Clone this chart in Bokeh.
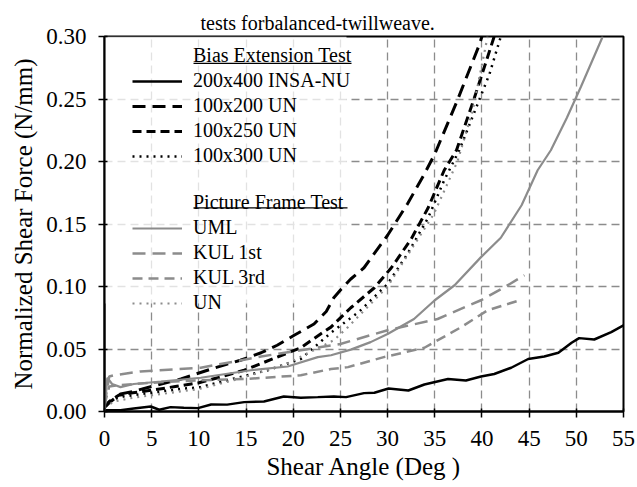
from bokeh.plotting import figure
from bokeh.models import (Legend, LegendItem, BoxAnnotation, FixedTicker, Range1d)
from bokeh.embed import file_html
from bokeh.resources import INLINE

FONT = "Liberation Serif"
BLACK = "#000000"
GRAY = "#8c8c8c"

title_text = "tests forbalanced-twillweave."
x_label = "Shear Angle (Deg )"
y_label = "Normalized Shear Force (N/mm)"

x_ticks = [0, 5, 10, 15, 20, 25, 30, 35, 40, 45, 50, 55]
y_ticks = [0.0, 0.05, 0.10, 0.15, 0.20, 0.25, 0.30]
y_tick_labels = ["0.00", "0.05", "0.10", "0.15", "0.20", "0.25", "0.30"]

# Bias Extension Test
insa_x = [0, 0.3, 1.7, 3.1, 4.9, 5.8, 7, 8.4, 9.9, 11.3, 13, 14.8, 16.9, 19, 20.8, 22.6, 24.3,
          25.6, 27.5, 28.6, 30.1, 32.2, 33.9, 36.4, 38.3, 39.9, 41.3, 43.1, 44.9, 46.6, 48.1,
          49.5, 50.3, 51.9, 53.7, 55]
insa_y = [0.001, 0.001, 0.001, 0.0024, 0.004, 0.0014, 0.0035, 0.003, 0.0027, 0.0056, 0.0055,
          0.0075, 0.008, 0.012, 0.011, 0.0115, 0.012, 0.0115, 0.0147, 0.015, 0.0184, 0.0168,
          0.0216, 0.026, 0.0248, 0.028, 0.030, 0.035, 0.042, 0.044, 0.047, 0.055, 0.0587,
          0.0576, 0.0635, 0.069]

un200_x = [0, 0.5, 1, 1.7, 3, 4.5, 6, 8.1, 11.3, 14.4, 16.6, 18.3, 20.1, 22.2, 23.5, 24.3,
           25.1, 26.1, 27.5, 30, 32.1, 33.9, 35, 37.4, 39.7, 40.0]
un200_y = [0.003, 0.007, 0.010, 0.014, 0.016, 0.019, 0.022, 0.026, 0.034, 0.041, 0.047, 0.053,
           0.061, 0.070, 0.080, 0.091, 0.098, 0.106, 0.115, 0.141, 0.166, 0.19, 0.206, 0.249,
           0.293, 0.30]

un250_x = [0, 0.5, 1.5, 3, 5, 7.5, 10, 12.5, 14.8, 18.3, 20.8, 22.9, 24, 26.1, 28.6, 30.4,
           32.5, 34.3, 36, 37.3, 39.2, 41.3]
un250_y = [0.004, 0.008, 0.013, 0.015, 0.017, 0.020, 0.023, 0.028, 0.033, 0.0435, 0.051,
           0.062, 0.0675, 0.083, 0.099, 0.115, 0.138, 0.163, 0.193, 0.209, 0.251, 0.30]

un300_x = [0, 1, 2, 4, 6, 8, 10.2, 13, 17.3, 20.8, 24, 27, 30, 32.1, 34.3, 36, 37.6, 40.8, 42.0]
un300_y = [0.004, 0.010, 0.012, 0.014, 0.016, 0.018, 0.0195, 0.025, 0.033, 0.042, 0.063, 0.08,
           0.102, 0.126, 0.155, 0.185, 0.209, 0.27, 0.30]

# Picture Frame Test
uml_x = [0, 0.3, 0.8, 1.7, 3.1, 6, 10.2, 15.5, 19.4, 22.6, 24, 26.1, 28.2, 30, 32.8, 35, 37.1,
         39.9, 42, 44.2, 45.9, 47.3, 49, 50.5, 52.8]
uml_y = [0.0, 0.027, 0.022, 0.0195, 0.022, 0.024, 0.027, 0.033, 0.036, 0.0435, 0.045, 0.0495,
         0.0555, 0.062, 0.074, 0.089, 0.101, 0.1235, 0.139, 0.165, 0.193, 0.209, 0.235, 0.26,
         0.30]

kul1_x = [0, 0.5, 1, 3.8, 10.2, 16.6, 20.8, 25, 30, 35.3, 39.9, 42.4, 44.5]
kul1_y = [0.005, 0.028, 0.029, 0.032, 0.035, 0.044, 0.049, 0.054, 0.065, 0.074, 0.089, 0.0995,
          0.109]

kul3_x = [0, 0.5, 1.5, 5, 10, 15.1, 20.8, 24, 25.8, 29.6, 33.9, 37.8, 40.6, 44]
kul3_y = [0.005, 0.02, 0.021, 0.023, 0.025, 0.026, 0.029, 0.034, 0.0355, 0.0435, 0.051, 0.0675,
          0.081, 0.089]

pfun_x = [0, 1, 3, 5, 10, 13.7, 19, 24.3, 25.8, 30, 34.9, 37.4, 39, 40.6]
pfun_y = [0.003, 0.008, 0.011, 0.013, 0.018, 0.025, 0.037, 0.057, 0.0675, 0.10, 0.158, 0.2,
          0.24, 0.30]

p = figure(width=637, height=487, x_range=Range1d(0, 55), y_range=Range1d(0, 0.30),
           output_backend="svg", toolbar_location=None,
           min_border_left=104, min_border_right=14, min_border_top=36, min_border_bottom=76)
p.background_fill_color = "white"
p.border_fill_color = "white"
p.outline_line_color = "black"
p.outline_line_width = 2
p.outline_line_alpha = 1

p.title.text = title_text
p.title.text_font = FONT
p.title.text_font_size = "20px"
p.title.text_font_style = "normal"
p.title.text_color = "black"
p.title.align = "left"
p.title.offset = 96
p.title.standoff = 5

for ax in (p.xaxis[0], p.yaxis[0]):
    ax.axis_line_width = 2
    ax.axis_line_color = "black"
    ax.major_tick_line_width = 1.5
    ax.major_tick_line_color = "black"
    ax.minor_tick_line_color = None
    ax.major_tick_out = 6
    ax.major_tick_in = 3
    ax.major_label_text_font = FONT
    ax.major_label_text_font_size = "23px"
    ax.major_label_text_color = "black"
    ax.axis_label_text_font = FONT
    ax.axis_label_text_font_size = "25px"
    ax.axis_label_text_font_style = "normal"
    ax.axis_label_text_color = "black"

p.xaxis.ticker = FixedTicker(ticks=x_ticks)
p.yaxis.ticker = FixedTicker(ticks=y_ticks)
p.yaxis.major_label_overrides = {t: l for t, l in zip(y_ticks, y_tick_labels)}
p.xaxis.axis_label = x_label
p.yaxis.axis_label = y_label
p.xaxis.major_label_standoff = 13
p.xaxis.axis_label_standoff = 4
p.yaxis.major_label_standoff = 12
p.yaxis.axis_label_standoff = 6

for g in (p.xgrid[0], p.ygrid[0]):
    g.grid_line_color = GRAY
    g.grid_line_width = 1.3
    g.grid_line_dash = "8 5"

# faint wash behind the legend region (drawn under the curves)
p.add_layout(BoxAnnotation(left=0, right=242, bottom=108, top=375,
                           left_units="screen", right_units="screen",
                           bottom_units="screen", top_units="screen",
                           fill_color="white", fill_alpha=0.75, line_alpha=0,
                           level="underlay"))

r_insa = p.line(insa_x, insa_y, line_color=BLACK, line_width=2.5)
r_200 = p.line(un200_x, un200_y, line_color=BLACK, line_width=3, line_dash="13 7")
r_250 = p.line(un250_x, un250_y, line_color=BLACK, line_width=3, line_dash="9 5")
r_300 = p.line(un300_x, un300_y, line_color=BLACK, line_width=2.5, line_dash="2 5")
r_uml = p.line(uml_x, uml_y, line_color=GRAY, line_width=2.2)
r_k1 = p.line(kul1_x, kul1_y, line_color=GRAY, line_width=2.5, line_dash="13 7")
r_k3 = p.line(kul3_x, kul3_y, line_color=GRAY, line_width=2.5, line_dash="10 6")
r_un = p.line(pfun_x, pfun_y, line_color=GRAY, line_width=2.2, line_dash="2 5")

h1 = p.line([], [], line_alpha=0)
hb = p.line([], [], line_alpha=0)
h2 = p.line([], [], line_alpha=0)

items = [
    LegendItem(label="Bias Extension Test", renderers=[h1]),
    LegendItem(label="200x400 INSA-NU", renderers=[r_insa]),
    LegendItem(label="100x200 UN", renderers=[r_200]),
    LegendItem(label="100x250 UN", renderers=[r_250]),
    LegendItem(label="100x300 UN", renderers=[r_300]),
    LegendItem(label=" ", renderers=[hb]),
    LegendItem(label="Picture Frame Test", renderers=[h2]),
    LegendItem(label="UML", renderers=[r_uml]),
    LegendItem(label="KUL 1st", renderers=[r_k1]),
    LegendItem(label="KUL 3rd", renderers=[r_k3]),
    LegendItem(label="UN", renderers=[r_un]),
]
legend = Legend(items=items, location=(23, 92), padding=5, margin=0, spacing=2,
                glyph_width=50, glyph_height=20, label_height=20, label_standoff=11,
                label_text_font=FONT, label_text_font_size="20px", label_text_color="black",
                border_line_alpha=0, background_fill_alpha=0)
p.add_layout(legend)

for (l, r, yb) in [(89, 247, 347.5), (89, 243, 203)]:
    p.add_layout(BoxAnnotation(left=l, right=r, bottom=yb, top=yb + 1.3,
                               left_units="screen", right_units="screen",
                               bottom_units="screen", top_units="screen",
                               fill_color="black", fill_alpha=1, line_alpha=0))

open("out.html", "w").write(file_html(p, INLINE))
